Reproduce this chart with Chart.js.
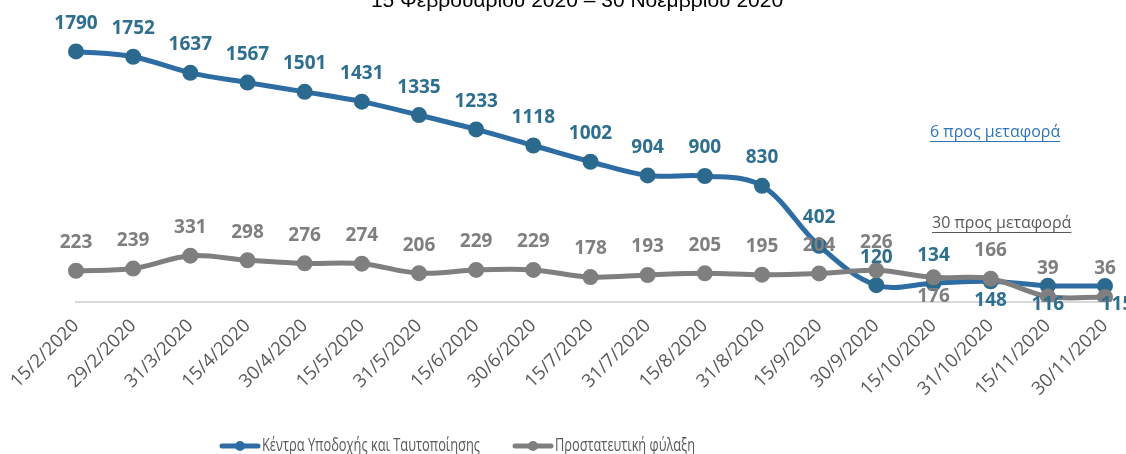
<!DOCTYPE html>
<html>
<head>
<meta charset="utf-8">
<script src="https://cdn.jsdelivr.net/npm/chart.js@4"></script>
<style>
  html, body { margin: 0; padding: 0; background: #fff; }
  #wrap { width: 1126px; height: 454px; position: relative; }
</style>
</head>
<body>
<div id="wrap"><canvas id="chart"></canvas></div>
<script>
const dates = ['15/2/2020', '29/2/2020', '31/3/2020', '15/4/2020', '30/4/2020', '15/5/2020', '31/5/2020',
    '15/6/2020', '30/6/2020', '15/7/2020', '31/7/2020', '15/8/2020', '31/8/2020', '15/9/2020',
    '30/9/2020', '15/10/2020', '31/10/2020', '15/11/2020', '30/11/2020'];
const kyt = [1790, 1752, 1637, 1567, 1501, 1431, 1335, 1233, 1118, 1002, 904, 900, 830, 402, 120, 134, 148, 116, 115];
const fylaxi = [223, 239, 331, 298, 276, 274, 206, 229, 229, 178, 193, 205, 195, 204, 226, 176, 166, 39, 36];
// where each value label sits: 'a' above the point, 'b' below
const kytPos = ['a','a','a','a','a','a','a','a','a','a','a','a','a','a','a','a','b','b','b'];
const fylaxiPos = ['a','a','a','a','a','a','a','a','a','a','a','a','a','a','a','b','a','a','a'];
const seriesNames = ['Κέντρα Υποδοχής και Ταυτοποίησης', 'Προστατευτική φύλαξη'];
const subtitle = '15 Φεβρουαρίου 2020 – 30 Νοεμβρίου 2020';

const BLUE = '#2E6DA4';
const BLUE_DARK = '#2B6A8E';
const GREY = '#7F7F7F';

const valueLabels = {
    id: 'valueLabels',
    afterDatasetsDraw(chart) {
        const ctx = chart.ctx;
        ctx.save();
        ctx.font = 'bold 19px "Open Sans"';
        ctx.textAlign = 'center';
        ctx.textBaseline = 'middle';
        chart.data.datasets.forEach((ds, i) => {
            const meta = chart.getDatasetMeta(i);
            meta.data.forEach((pt, j) => {
                const below = ds.labelPos[j] === 'b';
                // last blue label is pushed right in the original
                const dx = (i === 0 && j === ds.data.length - 1) ? 12 : 0;
                ctx.fillStyle = ds.labelColor;
                ctx.fillText(String(ds.data[j]), pt.x + dx, below ? pt.y + 19 : pt.y - 28, 44);
            });
        });
        ctx.restore();
    }
};

// subtitle, the two notes and the legend
const extraText = {
    id: 'extraText',
    afterDraw(chart) {
        const ctx = chart.ctx;
        ctx.save();
        ctx.font = '21px "Liberation Sans"';
        ctx.fillStyle = '#000';
        ctx.textAlign = 'center';
        ctx.textBaseline = 'alphabetic';
        ctx.fillText(subtitle, 577, 7);

        const notes = [
            {text: '6 προς μεταφορά', x: 930, y: 132, color: '#2E75B6'},
            {text: '30 προς μεταφορά', x: 932, y: 223, color: '#595959'}
        ];
        ctx.font = '16px "Open Sans"';
        ctx.textAlign = 'left';
        ctx.textBaseline = 'middle';
        notes.forEach(n => {
            ctx.fillStyle = n.color;
            ctx.fillText(n.text, n.x, n.y);
            const w = ctx.measureText(n.text).width;
            ctx.fillRect(n.x, n.y + 9, w, 1);
        });

        const items = [
            {text: seriesNames[0], x: 220, w: 218, color: BLUE},
            {text: seriesNames[1], x: 513, w: 140, color: GREY}
        ];
        const ly = 446;
        ctx.font = '19px "Open Sans"';
        items.forEach(it => {
            ctx.strokeStyle = it.color;
            ctx.lineWidth = 5;
            ctx.lineCap = 'round';
            ctx.beginPath();
            ctx.moveTo(it.x + 2, ly);
            ctx.lineTo(it.x + 38, ly);
            ctx.stroke();
            ctx.fillStyle = it.color;
            ctx.beginPath();
            ctx.arc(it.x + 20, ly, 5, 0, Math.PI * 2);
            ctx.fill();
            ctx.fillStyle = '#595959';
            ctx.fillText(it.text, it.x + 42, ly, it.w);
        });
        ctx.restore();
    }
};

new Chart(document.getElementById('chart'), {
    type: 'line',
    data: {
        labels: dates,
        datasets: [
            {
                label: seriesNames[0],
                data: kyt,
                labelPos: kytPos,
                labelColor: '#2E6E8E',
                borderColor: BLUE,
                backgroundColor: BLUE_DARK,
                pointBackgroundColor: BLUE_DARK,
                pointBorderColor: BLUE_DARK,
                borderWidth: 5,
                pointRadius: 5.5,
                tension: 0.35,
                order: 1
            },
            {
                label: seriesNames[1],
                data: fylaxi,
                labelPos: fylaxiPos,
                labelColor: '#7F7F7F',
                borderColor: GREY,
                backgroundColor: GREY,
                pointBackgroundColor: GREY,
                pointBorderColor: GREY,
                borderWidth: 5,
                pointRadius: 5.5,
                tension: 0.35,
                order: 0
            }
        ]
    },
    options: {
        responsive: true,
        maintainAspectRatio: false,
        animation: false,
        layout: {padding: {left: 76, right: 21, top: 22, bottom: 52}},
        scales: {
            x: {
                offset: false,
                grid: {display: false},
                border: {display: true, color: '#D9D9D9', width: 2},
                ticks: {
                    minRotation: 45, maxRotation: 45, autoSkip: false,
                    color: '#595959', font: {family: 'Open Sans', size: 18.5}, padding: 5
                },
                afterFit(scale) { scale.height = 100; }
            },
            y: {display: false, min: 0, max: 2000}
        },
        plugins: {
            legend: {display: false},
            tooltip: {enabled: false},
            title: {display: false}
        }
    },
    plugins: [valueLabels, extraText]
});
</script>
</body>
</html>
